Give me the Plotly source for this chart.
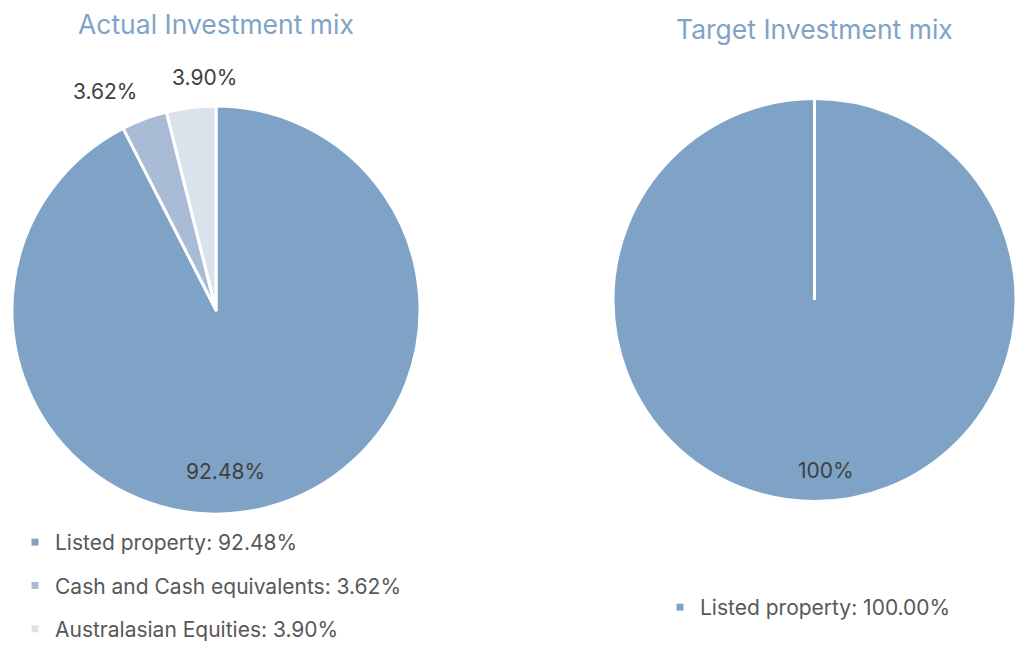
import math
import plotly.graph_objects as go

# ---- data ----
actual_labels = ["Listed property", "Cash and Cash equivalents", "Australasian Equities"]
actual_values = [92.48, 3.62, 3.90]
actual_text = ["92.48%", "3.62%", "3.90%"]
target_labels = ["Listed property"]
target_values = [100.0]
target_text = ["100%"]
titles = ["Actual Investment mix", "Target Investment mix"]

# ---- style ----
actual_colors = ["#7FA3C6", "#A9BCD6", "#DAE2EC"]
target_colors = ["#7FA3C6"]
FONT = "Inter, DejaVu Sans, sans-serif"
W, H = 1016, 646
dom_a = dict(x=[0.0118, 0.4134], y=[0.2043, 0.8359])
dom_t = dict(x=[0.6034, 1.0], y=[0.2229, 0.8483])
# data-label placement (offset from pie centre, in units of the radius)
actual_label_pos = [(0.049, 0.794), (-0.544, -1.069), (-0.054, -1.142)]
target_label_pos = [(0.059, 0.847)]

fig = go.Figure()
for labels, values, colors, dom in [
    (actual_labels, actual_values, actual_colors, dom_a),
    (target_labels, target_values, target_colors, dom_t),
]:
    fig.add_trace(go.Pie(
        labels=labels, values=values, textinfo="none",
        direction="clockwise", rotation=0, sort=False,
        marker=dict(colors=colors, line=dict(color="white", width=3)),
        domain=dom, showlegend=False, hoverinfo="label+percent",
    ))


def centre_radius(dom):
    cx = (dom["x"][0] + dom["x"][1]) / 2
    cy = (dom["y"][0] + dom["y"][1]) / 2
    r = min((dom["x"][1] - dom["x"][0]) * W, (dom["y"][1] - dom["y"][0]) * H) / 2
    return cx, cy, r


# data labels
for dom, texts, pos in [(dom_a, actual_text, actual_label_pos), (dom_t, target_text, target_label_pos)]:
    cx, cy, r = centre_radius(dom)
    for t, (dx, dy) in zip(texts, pos):
        fig.add_annotation(text=t, xref="paper", yref="paper",
                           x=cx + dx * r / W, y=cy - dy * r / H,
                           xanchor="center", yanchor="middle", showarrow=False,
                           font=dict(family=FONT, size=21, color="#404040"))

# legend entries (one per group so spacing can be controlled)
for i, (lab, val) in enumerate(zip(actual_labels, actual_values)):
    fig.add_trace(go.Scatter(
        x=[None], y=[None], mode="markers", name=f"{lab}: {val:.2f}%",
        marker=dict(symbol="square", size=7, color=actual_colors[i]),
        legend="legend", legendgroup=f"a{i}", showlegend=True,
    ))
for i, (lab, val) in enumerate(zip(target_labels, target_values)):
    fig.add_trace(go.Scatter(
        x=[None], y=[None], mode="markers", name=f"{lab}: {val:.2f}%",
        marker=dict(symbol="square", size=7, color=target_colors[i]),
        legend="legend2", legendgroup=f"t{i}", showlegend=True,
    ))

# white radial edge of the full target slice
cx, cy, r = centre_radius(dom_t)
fig.add_shape(type="line", xref="paper", yref="paper",
              x0=cx, y0=cy, x1=cx, y1=cy + r / H,
              line=dict(color="white", width=3))

for dom, title, ty in [(dom_a, titles[0], 24), (dom_t, titles[1], 29)]:
    fig.add_annotation(text=title, xref="paper", yref="paper",
                       x=(dom["x"][0] + dom["x"][1]) / 2, y=1 - ty / H,
                       xanchor="center", yanchor="middle", showarrow=False,
                       font=dict(family=FONT, size=26.5, color="#7FA3C8"))

legend_style = dict(font=dict(family=FONT, size=21, color="#585858"),
                    bgcolor="rgba(0,0,0,0)", traceorder="grouped",
                    tracegroupgap=13, itemwidth=30,
                    xanchor="left", yanchor="top")
fig.update_layout(
    width=W, height=H, autosize=False,
    margin=dict(l=0, r=0, t=0, b=0, autoexpand=False),
    paper_bgcolor="white", plot_bgcolor="white",
    xaxis=dict(visible=False), yaxis=dict(visible=False),
    legend=dict(x=15 / W, y=1 - 522 / H, **legend_style),
    legend2=dict(x=660 / W, y=1 - 587 / H, **legend_style),
)
fig.write_html(
    "out.html",
    config={"displayModeBar": False, "responsive": False},
    post_script="document.body.style.margin='0';document.body.style.overflow='hidden';",
)
